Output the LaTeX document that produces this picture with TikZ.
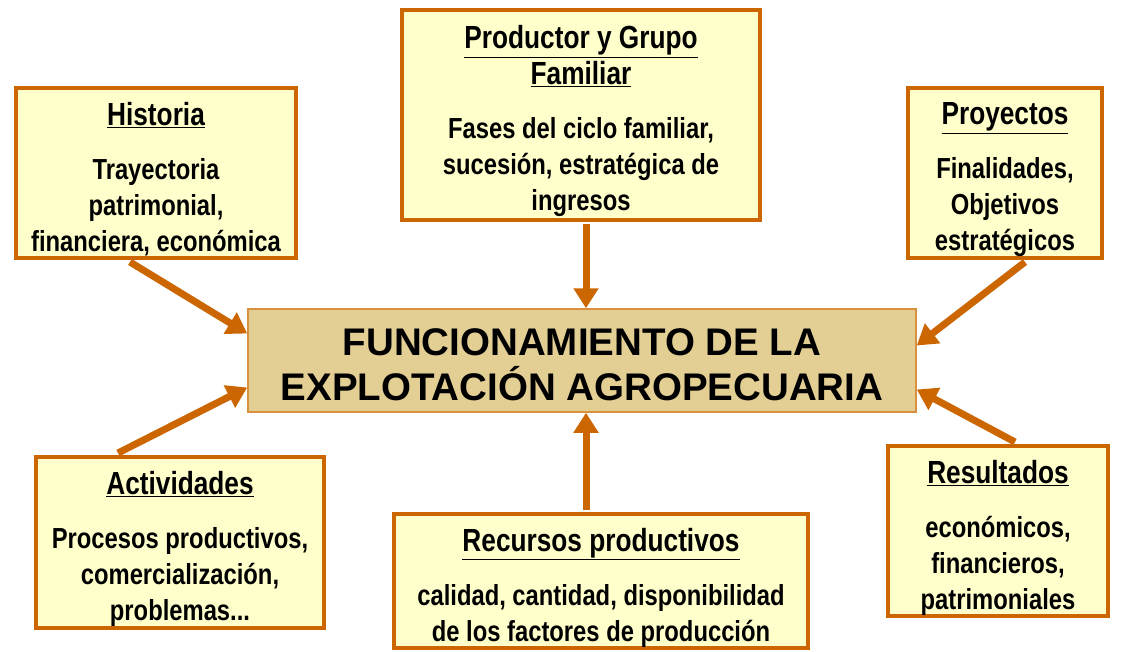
\documentclass[tikz,border=0pt]{standalone}
\usepackage{fontspec}
\setmainfont{Liberation Sans}
\newfontfamily\narrowfont{Liberation Sans}[FakeStretch=0.82]
\usetikzlibrary{arrows.meta,calc}
\definecolor{orng}{HTML}{CC6600}
\definecolor{boxfill}{HTML}{FFFFCC}
\definecolor{ctrfill}{HTML}{E3CF94}
\definecolor{ctrline}{HTML}{D9913F}
\newcommand{\ttl}[1]{{\fontsize{32}{36}\selectfont\underline{#1}}}
\newcommand{\topstrut}{\rule{0pt}{36pt}}
\begin{document}
\begin{tikzpicture}[x=1pt,y=-1pt,
  infobox/.style={draw=orng, line width=4pt, fill=boxfill, inner sep=0pt, align=center,
    font=\narrowfont\bfseries\fontsize{29}{36}\selectfont},
  ctrbox/.style={draw=ctrline, line width=1.5pt, fill=ctrfill, inner sep=0pt, align=center,
    font=\bfseries\fontsize{38.5}{45}\selectfont},
  link/.style={draw=orng, line width=7pt, -{Triangle[length=20pt,width=24pt]}}]
\useasboundingbox (0,0) rectangle (1132,651);
\fill[white] (0,0) rectangle (1132,651);

\node[ctrbox, minimum width=668pt, minimum height=103pt] (ctr) at (582,360.5)
  {\rule{0pt}{36pt}FUNCIONAMIENTO DE LA\\EXPLOTACIÓN AGROPECUARIA};

\node[infobox, minimum width=280pt, minimum height=170pt] (hist) at (156,173)
  {\topstrut\ttl{Historia}\\[18pt]Trayectoria\\patrimonial,\\financiera, económica};
\node[infobox, minimum width=358pt, minimum height=210pt] (prod) at (581,115)
  {\topstrut\ttl{Productor y Grupo}\\\ttl{Familiar}\\[18pt]Fases del ciclo familiar,\\sucesión, estratégica de\\ingresos};
\node[infobox, minimum width=194pt, minimum height=170pt] (proy) at (1005,173)
  {\topstrut\ttl{Proyectos}\\[18pt]Finalidades,\\Objetivos\\estratégicos};
\node[infobox, minimum width=288pt, minimum height=171pt] (act) at (180,542.5)
  {\topstrut\ttl{Actividades}\\[18pt]Procesos productivos,\\comercialización,\\problemas...};
\node[infobox, minimum width=414pt, minimum height=134pt] (rec) at (601,581)
  {\topstrut\ttl{Recursos productivos}\\[18pt]calidad, cantidad, disponibilidad\\de los factores de producción};
\node[infobox, minimum width=220pt, minimum height=170pt] (res) at (998,531)
  {\topstrut\ttl{Resultados}\\[18pt]económicos,\\financieros,\\patrimoniales};

\draw[link] ([xshift=-26pt,yshift=-2pt]hist.south) -- ([yshift=27pt]ctr.west);
\draw[link] ([xshift=5pt,yshift=-2pt]prod.south) -- ([xshift=4pt]ctr.north);
\draw[link] ([xshift=20pt,yshift=-2pt]proy.south) -- ([yshift=15pt]ctr.east);
\draw[link] ([xshift=-62pt,yshift=2pt]act.north) -- ([yshift=-27pt]ctr.west);
\draw[link] ([xshift=-15pt,yshift=2pt]rec.north) -- ([xshift=4pt]ctr.south);
\draw[link] ([xshift=17pt,yshift=2pt]res.north) -- ([yshift=-29pt]ctr.east);
\end{tikzpicture}
\end{document}
